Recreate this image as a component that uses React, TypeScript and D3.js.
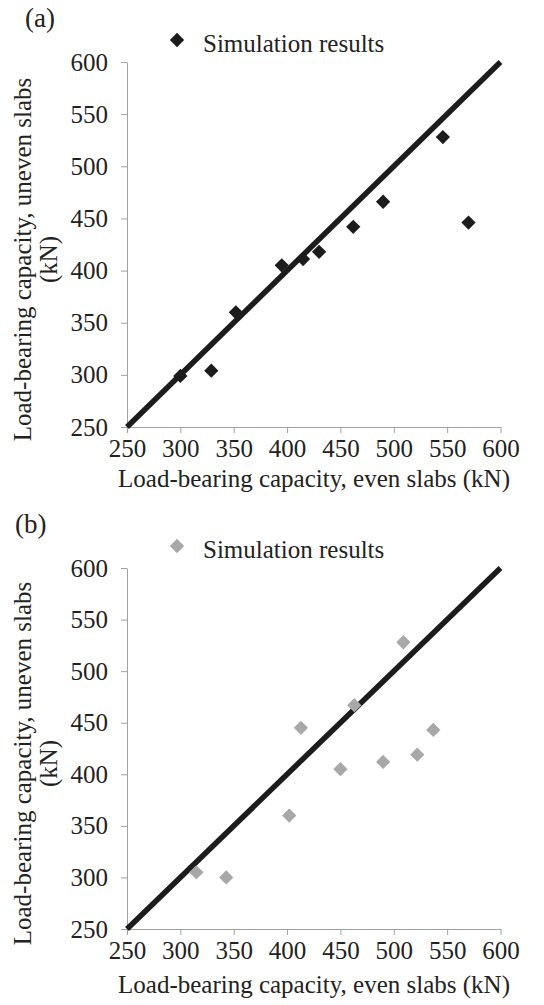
import React, { useEffect, useRef } from 'react';
import * as d3 from 'd3';

// even slabs (x) vs uneven slabs (y), kN
const evenA = [300, 329, 352, 395, 415, 430, 462, 490, 546, 570];
const unevenA = [299, 304, 360, 405, 411, 418, 442, 466, 528, 446];
const evenB = [315, 343, 402, 413, 450, 463, 490, 509, 522, 537];
const unevenB = [305, 300, 360, 445, 405, 467, 412, 528, 419, 443];
const ticks = [250, 300, 350, 400, 450, 500, 550, 600];
const lineEnds = [250, 600];

const FONT = '"Liberation Serif", "Times New Roman", serif';

const App = () => {
    const ref = useRef<SVGSVGElement>(null);

    useEffect(() => {
        const svg = d3.select(ref.current);
        svg.selectAll('*').remove();

        const panels = [
            {tag: '(a)', tagX: 25, top: 62, bottom: 427, labelGap: 60, xs: evenA, ys: unevenA, color: '#1c1c1c'},
            {tag: '(b)', tagX: 15, top: 568, bottom: 929, labelGap: 64, xs: evenB, ys: unevenB, color: '#a8a8a8'}
        ];

        panels.forEach(p => {
            const x = d3.scaleLinear().domain([250, 600]).range([127, 500.5]);
            const y = d3.scaleLinear().domain([250, 600]).range([p.bottom, p.top]);
            const g = svg.append('g');

            g.append('text')
                .attr('x', p.tagX)
                .attr('y', p.top - 35)
                .attr('font-size', 27)
                .attr('font-family', FONT)
                .attr('fill', '#222')
                .text(p.tag);

            // legend
            g.append('path')
                .attr('d', d3.symbol(d3.symbolDiamond2, 130)())
                .attr('transform', 'translate(177,' + (p.top - 22) + ')')
                .attr('fill', p.color);
            g.append('text')
                .attr('x', 203)
                .attr('y', p.top - 10)
                .attr('font-size', 25)
                .attr('font-family', FONT)
                .attr('fill', '#222')
                .text('Simulation results');

            const xAxis = g.append('g')
                .attr('transform', 'translate(0,' + p.bottom + ')')
                .call(d3.axisBottom(x).tickValues(ticks).tickSize(6).tickPadding(6).tickSizeOuter(0));
            const yAxis = g.append('g')
                .attr('transform', 'translate(127,0)')
                .call(d3.axisLeft(y).tickValues(ticks).tickSize(6).tickPadding(13).tickSizeOuter(0));

            [xAxis, yAxis].forEach(a => {
                a.select('.domain').attr('stroke', '#a0a0a0');
                a.selectAll('.tick line').attr('stroke', '#a0a0a0');
                a.selectAll('.tick text')
                    .attr('font-size', 25)
                    .attr('font-family', FONT)
                    .attr('fill', '#222');
            });

            g.append('text')
                .attr('x', 314)
                .attr('y', p.bottom + p.labelGap)
                .attr('text-anchor', 'middle')
                .attr('font-size', 25)
                .attr('font-family', FONT)
                .attr('fill', '#222')
                .text('Load-bearing capacity, even slabs (kN)');

            const cy = (p.top + p.bottom) / 2 + 15;
            const yl = g.append('text')
                .attr('transform', 'translate(0,' + cy + ') rotate(-90)')
                .attr('text-anchor', 'middle')
                .attr('font-size', 25)
                .attr('font-family', FONT)
                .attr('fill', '#222');
            yl.append('tspan').attr('x', 0).attr('y', 31).text('Load-bearing capacity, uneven slabs');
            yl.append('tspan').attr('x', 0).attr('y', 57).text('(kN)');

            // 1:1 line
            g.append('line')
                .attr('x1', x(lineEnds[0])).attr('y1', y(lineEnds[0]))
                .attr('x2', x(lineEnds[1])).attr('y2', y(lineEnds[1]))
                .attr('stroke', '#1c1c1c')
                .attr('stroke-width', 5.5);

            g.selectAll('.pt')
                .data(p.xs.map((v, i) => [v, p.ys[i]]))
                .enter().append('path')
                .attr('class', 'pt')
                .attr('d', d3.symbol(d3.symbolDiamond2, 130)())
                .attr('transform', d => 'translate(' + x(d[0]) + ',' + y(d[1]) + ')')
                .attr('fill', p.color);
        });
    }, []);

    return (
        <svg ref={ref} width={544} height={1005}
            style={{position: 'absolute', left: 0, top: 0, background: '#fff'}} />
    );
};

export default App;
